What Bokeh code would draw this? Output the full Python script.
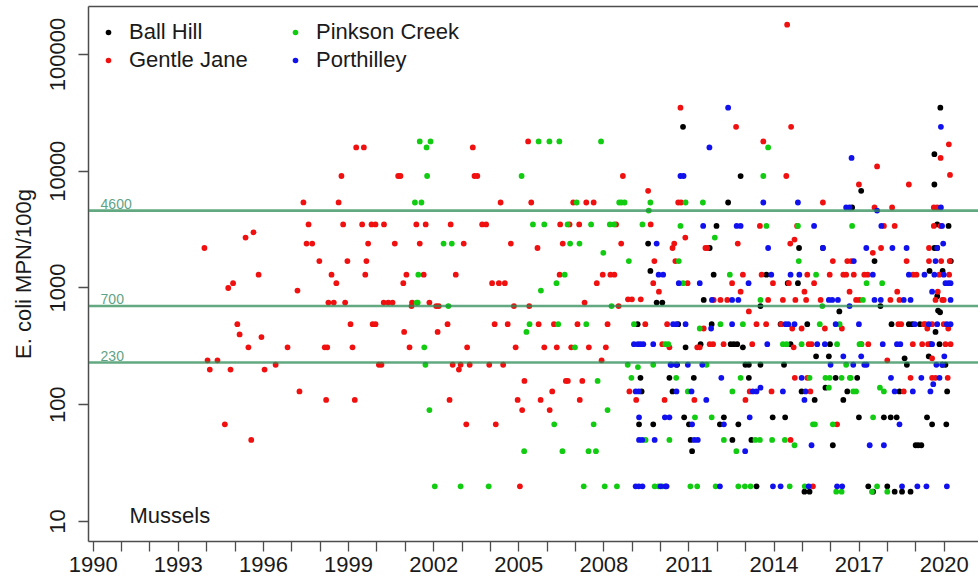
from bokeh.plotting import figure
from bokeh.models import (Range1d, FixedTicker, NumeralTickFormatter, LinearAxis,
                          Span, Label, Legend, LegendItem)
from bokeh.embed import file_html
from bokeh.resources import INLINE

# ---- data: sampling date (decimal year) and E. coli result (MPN/100g) per site ----
ball_hill_year = [2009.19, 2009.24, 2009.29, 2009.33, 2009.56, 2009.64, 2009.74, 2009.86, 2010.06, 2010.31,
                  2010.42, 2010.58, 2010.62, 2010.79, 2010.83, 2010.88, 2011.00, 2011.06, 2011.11, 2011.17,
                  2011.41, 2011.52, 2011.73, 2011.80, 2011.87, 2011.97, 2012.09, 2012.23, 2012.38, 2012.47,
                  2012.53, 2012.58, 2012.70, 2012.74, 2012.82, 2012.90, 2012.99, 2013.11, 2013.11, 2013.20,
                  2013.38, 2013.52, 2013.52, 2013.73, 2013.95, 2014.23, 2014.35, 2014.39, 2014.48, 2014.58,
                  2014.84, 2014.88, 2014.97, 2015.07, 2015.17, 2015.25, 2015.43, 2015.48, 2015.72, 2015.81,
                  2015.93, 2015.97, 2016.07, 2016.17, 2016.30, 2016.44, 2016.58, 2016.75, 2016.93, 2016.99,
                  2017.07, 2017.32, 2017.49, 2017.54, 2017.75, 2017.87, 2017.99, 2018.11, 2018.14, 2018.25,
                  2018.32, 2018.42, 2018.51, 2018.60, 2018.68, 2018.75, 2018.81, 2018.87, 2018.99, 2019.08,
                  2019.19, 2019.14, 2019.39, 2019.45, 2019.48, 2019.51, 2019.57, 2019.65, 2019.65, 2019.65,
                  2019.69, 2019.75, 2019.75, 2019.75, 2019.78, 2019.85, 2019.83, 2019.86, 2019.93, 2019.94,
                  2020.04, 2020.07, 2020.10, 2020.15, 2020.23]
ball_hill_mpn = [490, 68, 170, 130, 2400, 1400, 68, 750, 750, 170,
                 130, 220, 490, 24000, 78, 310, 68, 50, 40, 170,
                 330, 790, 2200, 490, 1300, 3400, 68, 78, 5400, 330,
                 50, 330, 330, 68, 9100, 310, 220, 220, 170, 50,
                 20, 700, 220, 1300, 78, 490, 220, 78, 1100, 330,
                 1100, 2200, 130, 18, 490, 18, 110, 260, 2200, 140,
                 260, 330, 45, 170, 630, 110, 130, 4900, 170, 78,
                 6800, 20, 18, 1700, 700, 78, 20, 78, 490, 18,
                 78, 130, 18, 250, 220, 490, 18, 490, 45, 45,
                 45, 490, 78, 260, 1400, 330, 68, 14000, 7700, 2200,
                 420, 3500, 850, 2200, 640, 620, 330, 35000, 220, 1400,
                 220, 68, 130, 3400, 1700]

gentle_jane_year = [1993.92, 1994.03, 1994.11, 1994.38, 1994.64, 1994.76, 1994.84, 1994.93, 1995.08, 1995.16,
                    1995.37, 1995.47, 1995.57, 1995.65, 1995.83, 1995.93, 1996.04, 1996.43, 1996.85, 1997.20,
                    1997.27, 1997.41, 1997.52, 1997.59, 1997.72, 1997.97, 1998.16, 1998.25, 1998.21, 1998.29,
                    1998.40, 1998.48, 1998.57, 1998.65, 1998.75, 1998.81, 1998.88, 1998.96, 1999.07, 1999.14,
                    1999.22, 1999.27, 1999.48, 1999.54, 1999.59, 1999.63, 1999.69, 1999.81, 1999.85, 1999.95,
                    1999.95, 2000.07, 2000.16, 2000.24, 2000.25, 2000.40, 2000.55, 2000.63, 2000.75, 2000.83,
                    2000.93, 2000.96, 2001.04, 2001.15, 2001.22, 2001.24, 2001.39, 2001.51, 2001.65, 2001.72,
                    2001.85, 2002.09, 2002.14, 2002.18, 2002.49, 2002.56, 2002.60, 2002.67, 2002.78, 2002.89,
                    2002.95, 2003.06, 2003.15, 2003.18, 2003.27, 2003.38, 2003.44, 2003.54, 2003.71, 2003.85,
                    2003.96, 2004.06, 2004.15, 2004.19, 2004.30, 2004.36, 2004.45, 2004.51, 2004.61, 2004.72,
                    2004.83, 2004.89, 2004.96, 2005.04, 2005.12, 2005.20, 2005.33, 2005.37, 2005.44, 2005.66,
                    2005.70, 2005.77, 2005.90, 2006.09, 2006.18, 2006.24, 2006.34, 2006.44, 2006.46, 2006.55,
                    2006.66, 2006.73, 2006.79, 2006.85, 2006.92, 2007.07, 2007.13, 2007.15, 2007.24, 2007.32,
                    2007.38, 2007.47, 2007.64, 2007.75, 2007.92, 2007.96, 2008.07, 2008.13, 2008.23, 2008.37,
                    2008.43, 2008.52, 2008.61, 2008.67, 2008.85, 2008.90, 2008.99, 2009.14, 2009.30, 2009.46,
                    2009.56, 2009.65, 2009.74, 2009.78, 2009.94, 2010.06, 2010.14, 2010.23, 2010.31, 2010.42,
                    2010.48, 2010.52, 2010.62, 2010.70, 2010.72, 2010.87, 2010.95, 2011.19, 2011.29, 2011.38,
                    2011.52, 2011.58, 2011.64, 2011.73, 2011.85, 2011.87, 2012.11, 2012.22, 2012.35, 2012.52,
                    2012.66, 2012.72, 2012.82, 2012.90, 2012.99, 2013.11, 2013.14, 2013.23, 2013.38, 2013.50,
                    2013.56, 2013.62, 2013.72, 2013.79, 2013.91, 2013.96, 2014.25, 2014.31, 2014.43, 2014.46,
                    2014.52, 2014.57, 2014.58, 2014.60, 2014.64, 2014.69, 2014.72, 2014.73, 2014.75, 2014.81,
                    2014.97, 2015.07, 2015.13, 2015.17, 2015.17, 2015.22, 2015.28, 2015.32, 2015.37, 2015.41,
                    2015.64, 2015.72, 2015.79, 2015.96, 2016.07, 2016.22, 2016.39, 2016.44, 2016.54, 2016.58,
                    2016.66, 2016.72, 2016.81, 2016.89, 2016.99, 2017.01, 2017.08, 2017.18, 2017.30, 2017.32,
                    2017.48, 2017.54, 2017.63, 2017.77, 2017.87, 2017.99, 2018.10, 2018.16, 2018.25, 2018.34,
                    2018.38, 2018.42, 2018.48, 2018.57, 2018.67, 2018.75, 2018.81, 2018.90, 2018.89, 2019.02,
                    2019.22, 2019.28, 2019.33, 2019.40, 2019.43, 2019.46, 2019.46, 2019.57, 2019.57, 2019.57,
                    2019.63, 2019.63, 2019.69, 2019.69, 2019.75, 2019.77, 2019.82, 2019.87, 2019.87, 2019.89,
                    2019.93, 2019.98, 2019.98, 2020.04, 2020.12, 2020.14, 2020.16, 2020.17, 2020.19, 2020.20,
                    2020.22]
gentle_jane_mpn = [2200, 240, 200, 240, 68, 1000, 200, 1100, 490, 400,
                   2700, 310, 50, 3000, 1300, 380, 200, 220, 310, 950,
                   130, 5400, 2400, 3500, 2400, 1700, 310, 310, 110, 750,
                   1300, 750, 1100, 5400, 9100, 3500, 750, 1700, 490, 310,
                   110, 16000, 3500, 16000, 1300, 1700, 2400, 3500, 490, 3500,
                   490, 220, 220, 750, 3500, 750, 750, 2400, 9100, 9100,
                   1100, 420, 1300, 310, 700, 750, 3500, 2400, 1300, 3500,
                   750, 700, 420, 700, 490, 110, 3500, 220, 1300, 200,
                   220, 2400, 68, 310, 220, 16000, 9100, 9100, 3500, 3500,
                   220, 1100, 490, 68, 1100, 5400, 220, 1100, 490, 2400,
                   700, 310, 110, 20, 90, 160, 18000, 700, 5400, 2200,
                   490, 110, 310, 90, 130, 490, 310, 1300, 3500, 2400,
                   160, 160, 3500, 310, 5400, 490, 3500, 110, 160, 750,
                   5400, 310, 5400, 1100, 240, 1300, 310, 490, 1300, 1300,
                   3500, 700, 2400, 9100, 800, 130, 800, 110, 800, 490,
                   6800, 3500, 1100, 1700, 930, 330, 110, 490, 310, 2200,
                   2400, 1700, 5400, 35000, 5400, 2700, 1100, 110, 310, 310,
                   450, 2200, 2200, 330, 330, 790, 790, 330, 790, 1100,
                   24000, 2400, 930, 1300, 110, 630, 130, 330, 490, 3400,
                   1300, 18000, 490, 790, 130, 1100, 490, 790, 9100, 180000,
                   1100, 2400, 50, 24000, 450, 310, 2600, 170, 790, 3400,
                   450, 930, 790, 1300, 170, 330, 130, 330, 20, 1100,
                   790, 5400, 450, 1300, 1700, 68, 450, 1300, 1300, 1700,
                   930, 1700, 1300, 790, 7700, 790, 330, 1300, 1300, 330,
                   2000, 4900, 11000, 2200, 3400, 240, 790, 4900, 3400, 930,
                   490, 790, 490, 130, 1700, 7700, 170, 1300, 330, 1300,
                   330, 490, 490, 450, 330, 2200, 1700, 250, 170, 490,
                   4900, 3400, 170, 790, 4900, 930, 1300, 13000, 3400, 1700,
                   790, 790, 490, 330, 170, 450, 17000, 1300, 1700, 9300,
                   330]

pinkson_creek_year = [2001.34, 2001.40, 2001.44, 2001.46, 2001.51, 2001.57, 2001.67, 2001.71, 2001.75, 2001.77,
                      2001.85, 2001.89, 2002.04, 2002.35, 2002.52, 2002.64, 2002.95, 2003.94, 2005.10, 2005.19,
                      2005.27, 2005.38, 2005.50, 2005.70, 2005.78, 2005.90, 2006.08, 2006.25, 2006.33, 2006.39,
                      2006.43, 2006.54, 2006.62, 2006.72, 2006.81, 2006.98, 2007.04, 2007.14, 2007.29, 2007.38,
                      2007.46, 2007.55, 2007.64, 2007.72, 2007.78, 2007.90, 2007.98, 2008.03, 2008.13, 2008.21,
                      2008.27, 2008.36, 2008.46, 2008.54, 2008.62, 2008.73, 2008.84, 2008.88, 2008.97, 2009.06,
                      2009.20, 2009.36, 2009.47, 2009.58, 2009.64, 2009.74, 2009.79, 2009.92, 2010.06, 2010.17,
                      2010.27, 2010.31, 2010.55, 2010.64, 2010.70, 2010.79, 2010.88, 2010.96, 2011.05, 2011.21,
                      2011.29, 2011.38, 2011.49, 2011.62, 2011.80, 2011.91, 2011.94, 2012.11, 2012.23, 2012.44,
                      2012.53, 2012.67, 2012.74, 2012.82, 2012.90, 2012.97, 2013.17, 2013.34, 2013.50, 2013.52,
                      2013.62, 2013.73, 2013.79, 2013.93, 2014.31, 2014.38, 2014.44, 2014.55, 2014.72, 2014.84,
                      2014.87, 2014.97, 2015.08, 2015.25, 2015.37, 2015.44, 2015.48, 2015.61, 2015.70, 2015.81,
                      2015.93, 2015.96, 2016.07, 2016.19, 2016.22, 2016.31, 2016.38, 2016.38, 2016.54, 2016.67,
                      2016.70, 2016.75, 2016.79, 2016.89, 2017.01, 2017.07, 2017.13, 2017.26, 2017.45, 2017.49,
                      2017.63, 2017.73, 2017.81, 2017.87, 2017.99]
pinkson_creek_mpn = [5400, 750, 750, 1300, 18000, 5400, 310, 220, 16000, 9100,
                     90, 18000, 20, 2400, 700, 2400, 20, 20, 9100, 40,
                     420, 490, 3500, 18000, 950, 3500, 18000, 68, 1100, 490,
                     18000, 40, 1300, 3500, 2400, 310, 5400, 2400, 20, 490,
                     40, 3500, 68, 40, 160, 18000, 2000, 20, 90, 3500,
                     700, 3500, 20, 5400, 5400, 5400, 220, 1700, 170, 490,
                     210, 3500, 50, 4600, 5400, 220, 20, 20, 20, 330,
                     330, 50, 170, 1700, 3400, 1100, 5400, 130, 20, 78,
                     20, 450, 5400, 220, 78, 2700, 20, 490, 50, 1300,
                     130, 40, 20, 170, 490, 20, 20, 50, 50, 790,
                     9100, 3400, 16000, 50, 330, 50, 330, 20, 45, 3400,
                     1700, 330, 20, 170, 68, 68, 1300, 490, 700, 170,
                     140, 170, 68, 18, 330, 490, 18, 170, 220, 170,
                     170, 3400, 130, 130, 330, 330, 790, 1100, 18, 78,
                     20, 140, 1100, 130, 18]

porthilley_year = [2009.06, 2009.12, 2009.12, 2009.20, 2009.23, 2009.23, 2009.24, 2009.24, 2009.29, 2009.35,
                   2009.36, 2009.39, 2009.74, 2009.79, 2009.86, 2009.93, 2010.00, 2010.09, 2010.15, 2010.17,
                   2010.21, 2010.31, 2010.35, 2010.38, 2010.44, 2010.55, 2010.56, 2010.56, 2010.64, 2010.70,
                   2010.81, 2010.88, 2010.96, 2011.09, 2011.11, 2011.19, 2011.31, 2011.38, 2011.47, 2011.50,
                   2011.61, 2011.72, 2011.78, 2011.81, 2012.09, 2012.14, 2012.23, 2012.38, 2012.52, 2012.52,
                   2012.68, 2012.74, 2012.82, 2012.98, 2013.10, 2013.14, 2013.25, 2013.38, 2013.52, 2013.62,
                   2013.76, 2013.79, 2013.90, 2013.96, 2014.23, 2014.31, 2014.40, 2014.50, 2014.58, 2014.72,
                   2014.84, 2014.89, 2014.97, 2015.07, 2015.11, 2015.22, 2015.32, 2015.41, 2015.52, 2015.72,
                   2015.79, 2015.93, 2015.99, 2016.05, 2016.17, 2016.22, 2016.25, 2016.40, 2016.44, 2016.54,
                   2016.66, 2016.66, 2016.73, 2016.79, 2016.81, 2016.99, 2017.07, 2017.18, 2017.25, 2017.26,
                   2017.37, 2017.48, 2017.54, 2017.63, 2017.76, 2017.78, 2017.83, 2017.87, 2018.12, 2018.17,
                   2018.25, 2018.33, 2018.42, 2018.45, 2018.51, 2018.57, 2018.67, 2018.75, 2018.81, 2018.89,
                   2018.96, 2019.05, 2019.19, 2019.30, 2019.37, 2019.45, 2019.51, 2019.57, 2019.61, 2019.57,
                   2019.65, 2019.69, 2019.72, 2019.75, 2019.75, 2019.83, 2019.88, 2019.88, 2019.92, 2019.93,
                   2019.96, 2019.98, 2020.00, 2020.04, 2020.09, 2020.09, 2020.14, 2020.22, 2020.22, 2020.22]
porthilley_mpn = [330, 130, 20, 330, 130, 20, 78, 50, 330, 50,
                  20, 330, 330, 50, 2400, 1300, 20, 1300, 78, 20,
                  20, 78, 220, 220, 490, 220, 130, 490, 1100, 9100,
                  9100, 490, 220, 130, 68, 50, 50, 1100, 220, 3400,
                  110, 16000, 450, 790, 20, 170, 68, 35000, 790, 490,
                  3400, 790, 3400, 40, 1100, 78, 130, 130, 140, 5400,
                  330, 2200, 1300, 20, 20, 130, 490, 490, 1300, 490,
                  5400, 1300, 170, 110, 130, 20, 45, 3400, 330, 2200,
                  330, 790, 220, 790, 490, 20, 790, 20, 260, 4900,
                  4900, 700, 13000, 220, 1700, 490, 260, 220, 2200, 220,
                  45, 1300, 790, 4600, 790, 3400, 330, 45, 170, 2200,
                  130, 330, 68, 330, 20, 790, 2200, 1300, 790, 130,
                  490, 20, 170, 1300, 20, 490, 130, 330, 150, 930,
                  1300, 1700, 220, 2200, 490, 170, 24000, 4900, 3400, 220,
                  2400, 1300, 260, 1100, 490, 20, 1100, 1100, 490, 790]

sites = ["Ball Hill", "Gentle Jane", "Pinkson Creek", "Porthilley"]
site_years = [ball_hill_year, gentle_jane_year, pinkson_creek_year, porthilley_year]
site_values = [ball_hill_mpn, gentle_jane_mpn, pinkson_creek_mpn, porthilley_mpn]
site_colors = ["#000000", "#f01010", "#11cc11", "#1111ee"]

# classification thresholds drawn as horizontal lines
thresholds = [4600, 700, 230]
threshold_labels = ["4600", "700", "230"]

x_tick_years = list(range(1990, 2021))
x_label_years = list(range(1990, 2021, 3))
y_ticks = [10, 100, 1000, 10000, 100000]

FONT = "Liberation Sans"
AXIS_GREY = "#4d4d4d"
LINE_GREEN = "#2e8b57"

p = figure(width=978, height=580, output_backend="svg", toolbar_location=None,
           x_range=Range1d(1989.834, 2021.205), y_range=Range1d(6.74, 257600),
           y_axis_type="log", min_border_left=88, min_border_right=0,
           min_border_top=6, min_border_bottom=39)
p.outline_line_color = None
p.grid.visible = False
p.background_fill_color = "white"
p.border_fill_color = "white"

renderers = []
for name, xs, ys, col in zip(sites, site_years, site_values, site_colors):
    r = p.scatter(xs, ys, size=5.8, fill_color=col, line_color=None)
    renderers.append(r)

for t, lab in zip(thresholds, threshold_labels):
    p.add_layout(Span(location=t, dimension="width", line_color=LINE_GREEN,
                      line_alpha=0.75, line_width=2.6))
    p.add_layout(Label(x=1990.26, y=t, text=lab, y_offset=2, text_baseline="bottom",
                       text_font=FONT, text_font_size="14px", text_color="#5fa386"))

p.add_layout(Label(x=1991.28, y=11.2, text="Mussels", text_baseline="middle",
                   text_font=FONT, text_font_size="22px", text_color="#1a1a1a"))

# axes
xa = p.xaxis[0]
xa.ticker = FixedTicker(ticks=x_tick_years, minor_ticks=[])
xa.major_label_overrides = {yr: (str(yr) if yr in x_label_years else "") for yr in x_tick_years}
ya = p.yaxis[0]
ya.ticker = FixedTicker(ticks=y_ticks, minor_ticks=[])
ya.formatter = NumeralTickFormatter(format="0")
ya.major_label_orientation = "vertical"
ya.axis_label = "E. coli MPN/100g"
ya.axis_label_text_font_style = "normal"
ya.axis_label_text_font = FONT
ya.axis_label_text_font_size = "22px"
ya.axis_label_text_color = "#1a1a1a"
ya.axis_label_standoff = 12

for ax in (xa, ya):
    ax.axis_line_color = AXIS_GREY
    ax.axis_line_width = 1.5
    ax.major_tick_line_color = AXIS_GREY
    ax.major_tick_line_width = 1.3
    ax.major_tick_in = 0
    ax.major_tick_out = 10
    ax.minor_tick_line_color = None
    ax.major_label_text_font = FONT
    ax.major_label_text_font_size = "22px"
    ax.major_label_text_color = "#1a1a1a"
xa.major_label_standoff = 5
ya.major_label_standoff = 13

# top border of the plotting box
top = LinearAxis(ticker=FixedTicker(ticks=[]), major_tick_in=0, major_tick_out=0,
                 minor_tick_in=0, minor_tick_out=0, major_label_standoff=0,
                 major_label_text_font_size="0px", axis_line_color=AXIS_GREY,
                 axis_line_width=1.5)
p.add_layout(top, "above")

# legend in two columns
legend_style = dict(border_line_color=None, background_fill_alpha=0, padding=0,
                    glyph_width=14, glyph_height=26, label_height=26, label_standoff=14,
                    spacing=2, label_text_font=FONT, label_text_font_size="22px",
                    label_text_color="#1a1a1a")
leg1 = Legend(items=[LegendItem(label=sites[0], renderers=[renderers[0]]),
                     LegendItem(label=sites[1], renderers=[renderers[1]])],
              location="top_left", margin=13, **legend_style)
leg2 = Legend(items=[LegendItem(label=sites[2], renderers=[renderers[2]]),
                     LegendItem(label=sites[3], renderers=[renderers[3]])],
              location=(200, 468), margin=0, **legend_style)
p.add_layout(leg1)
p.add_layout(leg2)

open("out.html", "w").write(file_html(p, INLINE))
